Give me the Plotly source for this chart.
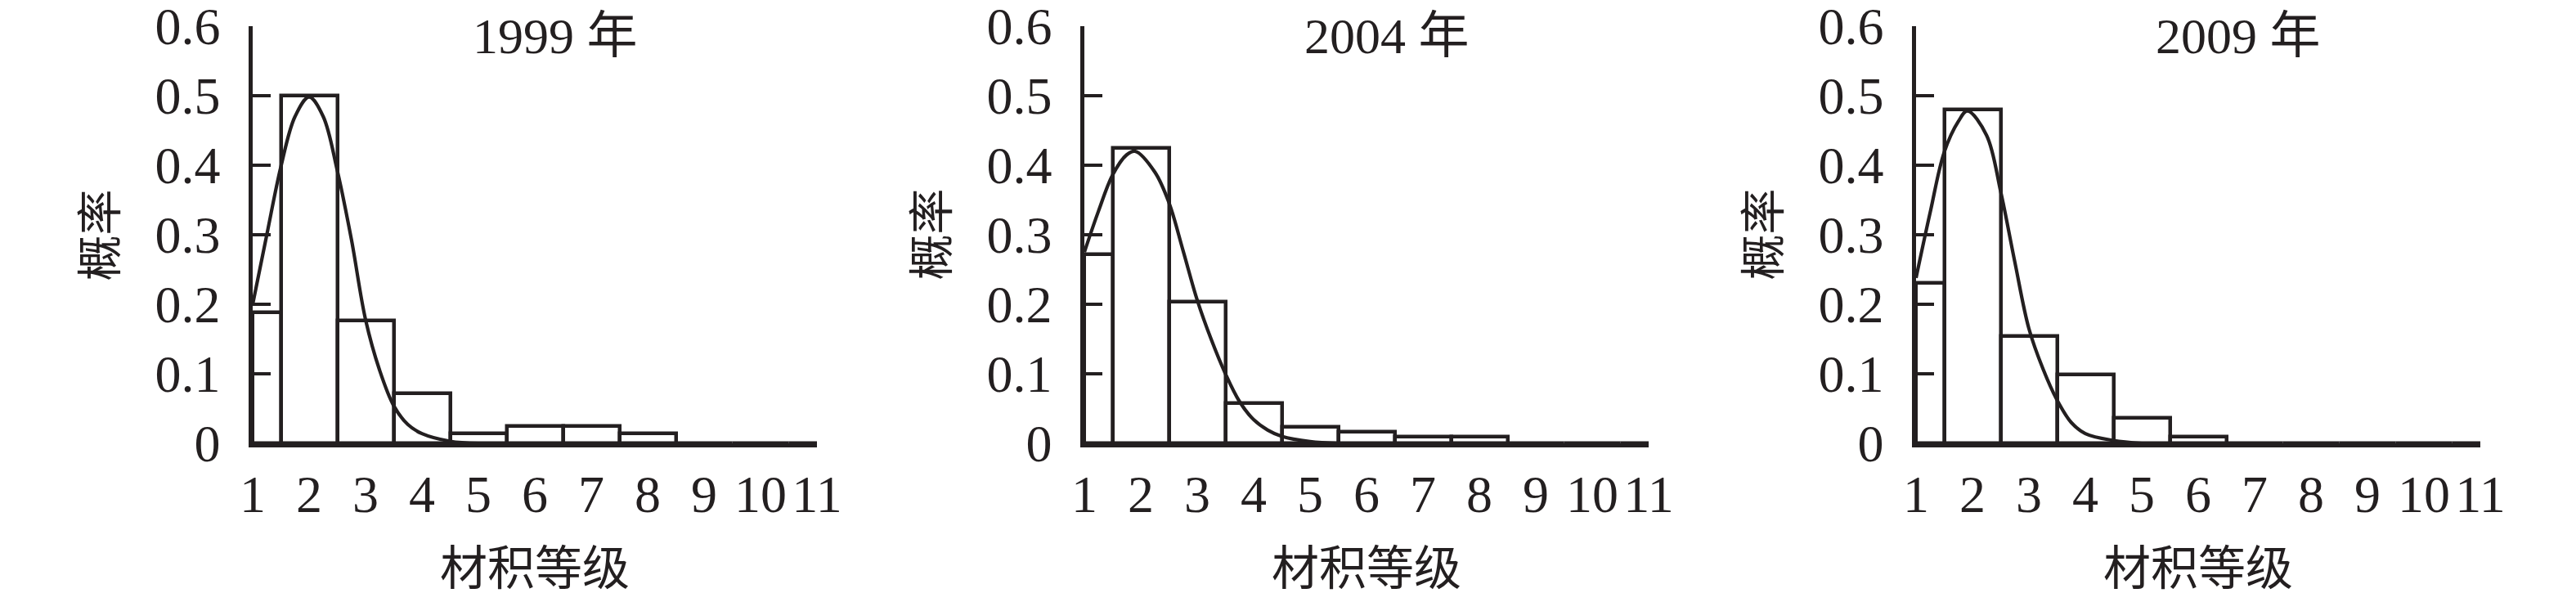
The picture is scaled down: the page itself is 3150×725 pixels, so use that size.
import plotly.graph_objects as go

# ---------------- data ----------------
grades = [1, 2, 3, 4, 5, 6, 7, 8, 9, 10, 11]
tick_text_x = ["1", "2", "3", "4", "5", "6", "7", "8", "9", "10", "11"]
tick_vals_y = [0, 0.1, 0.2, 0.3, 0.4, 0.5, 0.6]
tick_text_y = ["0", "0.1", "0.2", "0.3", "0.4", "0.5", "0.6"]

years = ["1999 年", "2004 年", "2009 年"]

p1999 = [0.188, 0.500, 0.177, 0.072, 0.014, 0.025, 0.025, 0.014, 0, 0, 0]
p2004 = [0.272, 0.425, 0.203, 0.058, 0.0235, 0.016, 0.009, 0.010, 0, 0, 0]
p2009 = [0.231, 0.480, 0.154, 0.099, 0.036, 0.009, 0, 0, 0, 0, 0]

c1999_x = [1, 1.25, 1.5, 1.75, 2.0, 2.25, 2.5, 2.75, 3.0, 3.25, 3.5, 3.75, 4.0, 4.5, 5.0]
c1999_y = [0.200, 0.300, 0.398, 0.470, 0.498, 0.470, 0.392, 0.293, 0.178, 0.105, 0.054, 0.027, 0.014, 0.003, 0.0]

c2004_x = [1, 1.25, 1.5, 1.75, 1.9, 2.25, 2.5, 2.75, 3.0, 3.25, 3.5, 3.75, 4.0, 4.25, 4.5, 5.0, 5.5]
c2004_y = [0.275, 0.334, 0.386, 0.415, 0.420, 0.390, 0.346, 0.277, 0.206, 0.149, 0.100, 0.060, 0.034, 0.019, 0.010, 0.0025, 0.0]

c2009_x = [1, 1.25, 1.5, 1.75, 1.91, 2.25, 2.5, 2.75, 3.0, 3.25, 3.5, 3.75, 4.0, 4.5, 5.0]
c2009_y = [0.238, 0.332, 0.419, 0.463, 0.478, 0.443, 0.362, 0.261, 0.165, 0.107, 0.062, 0.030, 0.014, 0.004, 0.0]

bars = [p1999, p2004, p2009]
curves = [(c1999_x, c1999_y), (c2004_x, c2004_y), (c2009_x, c2009_y)]

# ---------------- layout ----------------
W, H = 3150, 725
OFF = 8  # page body margin offset compensation
INK = "#231f20"
NUM_FONT = "Liberation Serif, Times New Roman, Noto Sans CJK SC, serif"
ax_left_px = [306 - OFF + 3, 1323 - OFF + 3, 2340 - OFF + 3]
ax_len_px = 690
domains = [[a / W, (a + ax_len_px) / W] for a in ax_left_px]
title_x = [6.36, 6.36, 6.71]
TOP = 32 - OFF
BOTTOM = H - (542 - OFF)
PLOT_H = H - TOP - BOTTOM

# bar geometry: first class (grade 1) starts at x = 1, so only its right half shows
bar_x = [g + 0.25 if g == 1 else g for g in grades]
bar_w = [0.5 if g == 1 else 1.0 for g in grades]

fig = go.Figure()
annotations = []
for i in range(3):
    xa = "x" if i == 0 else f"x{i+1}"
    ya = "y" if i == 0 else f"y{i+1}"
    fig.add_trace(go.Bar(
        x=bar_x, y=bars[i], width=bar_w,
        marker=dict(color="white", line=dict(color=INK, width=4.5)),
        xaxis=xa, yaxis=ya, showlegend=False, hoverinfo="skip",
    ))
    cx, cy = curves[i]
    fig.add_trace(go.Scatter(
        x=cx, y=cy, mode="lines",
        line=dict(color=INK, width=4.2, shape="spline", smoothing=1.0),
        xaxis=xa, yaxis=ya, showlegend=False, hoverinfo="skip",
    ))
    xkey = "xaxis" if i == 0 else f"xaxis{i+1}"
    ykey = "yaxis" if i == 0 else f"yaxis{i+1}"
    fig.layout[xkey] = dict(
        domain=domains[i], range=[1, 11], anchor=ya, automargin=False,
        tickmode="array", tickvals=grades, ticktext=tick_text_x,
        showline=True, linecolor=INK, linewidth=4.5,
        ticks="", showgrid=False, zeroline=False,
        tickfont=dict(family=NUM_FONT, size=64, color=INK),
        ticklabelstandoff=2, ticklabeloverflow="allow",
    )
    fig.layout[ykey] = dict(
        domain=[0, 1], range=[0, 0.6], anchor=xa, automargin=False,
        tickmode="array", tickvals=tick_vals_y, ticktext=tick_text_y,
        showline=True, linecolor=INK, linewidth=4.5,
        ticks="inside", ticklen=22, tickwidth=3.5, tickcolor=INK,
        showgrid=False, zeroline=False,
        tickfont=dict(family=NUM_FONT, size=64, color=INK),
        ticklabelstandoff=22, ticklabeloverflow="allow",
    )
    # panel title (box top at the very top of the figure)
    annotations.append(dict(
        text=years[i], x=title_x[i], y=1 + (TOP - 1) / PLOT_H, xref=xa, yref="paper",
        xanchor="center", yanchor="top", showarrow=False, borderpad=0,
        font=dict(family=NUM_FONT, size=62, color=INK),
    ))
    # x-axis title
    annotations.append(dict(
        text="材积等级", x=(domains[i][0] + domains[i][1]) / 2, y=-0.30,
        xref="paper", yref="paper", xanchor="center", yanchor="middle",
        showarrow=False, font=dict(family=NUM_FONT, size=58, color=INK),
    ))
    # y-axis title
    annotations.append(dict(
        text="概率", x=(ax_left_px[i] - 186.5) / W, y=0.5,
        xref="paper", yref="paper", xanchor="center", yanchor="middle",
        textangle=-90, showarrow=False,
        font=dict(family=NUM_FONT, size=56, color=INK),
    ))

fig.update_layout(
    width=W, height=H,
    margin=dict(l=0, r=0, t=TOP, b=BOTTOM, autoexpand=False),
    paper_bgcolor="white", plot_bgcolor="white",
    barmode="overlay", bargap=0,
    annotations=annotations,
)

fig.write_html("out.html")
